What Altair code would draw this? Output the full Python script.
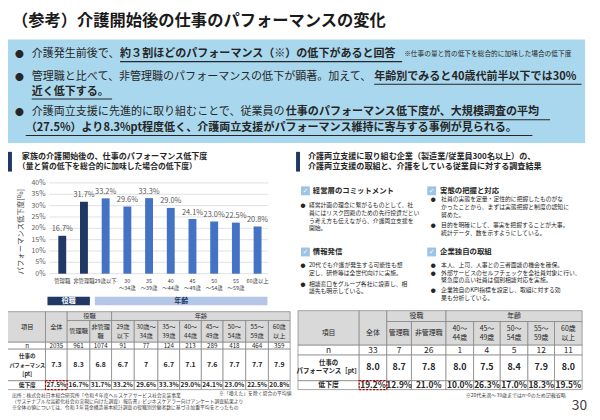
import altair as alt
import pandas as pd

JP = "Noto Sans CJK JP"
O = 8  # page margin: layout numbers below are page pixels

# ---------------- data ----------------
bar_categories = ["管理職", "非管理職", "29歳以下", "30～34歳", "35～39歳", "40～44歳",
                  "45～49歳", "50～54歳", "55～59歳", "60歳以上"]
bar_groups = ["役職", "役職", "年齢", "年齢", "年齢", "年齢", "年齢", "年齢", "年齢", "年齢"]
bar_values = [16.7, 31.7, 33.2, 29.6, 33.3, 29.0, 24.1, 23.0, 22.5, 20.8]
bar_label_top = ["管理職", "非管理職", "29歳以下", "30", "35", "40", "45", "50", "55", "60歳以上"]
bar_label_bottom = ["", "", "", "～34歳", "～39歳", "～44歳", "～49歳", "～54歳", "～59歳", ""]
y_ticks = [0, 5, 10, 15, 20, 25, 30, 35, 40]

left_heads_top = ["管理職", "非管理", "29歳", "30歳～", "35～", "40～", "45～", "50～", "55～", "60歳"]
left_heads_bottom = ["", "職", "以下", "34歳", "39歳", "44歳", "49歳", "54歳", "59歳", "以上"]
left_n = [2035, 961, 1074, 91, 77, 124, 213, 289, 418, 464, 359]
left_perf = ["7.3", "8.3", "6.8", "6.7", "7", "6.7", "7.1", "7.6", "7.7", "7.7", "7.9"]
left_drop_total = 27.5

right_heads_top = ["管理職", "非管理職", "40～", "45～", "50～", "55～", "60歳"]
right_heads_bottom = ["", "", "44歳", "49歳", "54歳", "59歳", "以上"]
right_n = [33, 7, 26, 1, 4, 5, 12, 11]
right_perf = ["8.0", "8.7", "7.8", "8.0", "7.5", "8.4", "7.9", "8.0"]
right_drop = [19.2, 12.9, 21.0, 10.0, 26.3, 17.0, 18.3, 19.5]

# ---------------- helpers ----------------
texts, fills, cells, dashes, rules = [], [], [], [], []
INK = "#262626"


def T(x, y, t, s, c=INK, w="normal", a="left", f=JP):
    texts.append(dict(x=x - O, y=y - O, t=t, s=s, c=c, w=w, a=a, f=f))


def R(lst, x1, x2, y1, y2, fill="white"):
    lst.append(dict(x=x1 - O, x2=x2 - O, y=y1 - O, y2=y2 - O, fill=fill))


def em(t, bold=False):
    w = 0.0
    for ch in t:
        o = ord(ch)
        if o >= 0x2E80:
            w += 1.0
        elif ch.isdigit():
            w += 0.55
        elif ch == "%":
            w += 0.85
        elif ch in ".,":
            w += 0.27
        else:
            w += 0.55
    return w * (1.04 if bold else 1.0)


FS = 11.2


def seg_line(x0, y, segs):
    x = x0
    for t, bold in segs:
        T(x, y, t, FS, w="bold" if bold else "normal")
        wpx = em(t, bold) * FS
        if bold:
            rules.append(dict(x=x - O, x2=x + wpx - O, y=y + 7.5 - O))
        x += wpx
    return x


# ---------------- title & summary box ----------------
T(12, 18.5, "（参考）介護開始後の仕事のパフォーマンスの変化", 16.5, c="#1a1a1a", w="bold")
R(fills, 7, 593, 37, 142, "#a9d8ee")
for by in [52, 75, 111]:
    T(19.5, by, "●", 9, a="center")
end1 = seg_line(32, 52, [("介護発生前後で、", False), ("約３割ほどのパフォーマンス（※）の低下があると回答", True)])
T(end1 + 2, 52, "※仕事の量と質の低下を総合的に加味した場合の低下度", 6.8)
seg_line(32, 75, [("管理職と比べて、非管理職のパフォーマンスの低下が顕著。加えて、", False),
                  ("年齢別でみると40歳代前半以下では30%", True)])
seg_line(32, 90, [("近く低下する。", True)])
seg_line(32, 111, [("介護両立支援に先進的に取り組むことで、従業員の", False),
                   ("仕事のパフォーマンス低下度が、大規模調査の平均", True)])
seg_line(26, 127, [("（27.5%）より8.3%pt程度低く、介護両立支援がパフォーマンス維持に寄与する事例が見られる。", True)])

# ---------------- left section header ----------------
R(fills, 8, 12, 151, 171, "#203864")
T(22, 156, "家族の介護開始後の、仕事のパフォーマンス低下度", 8.2, w="bold")
T(18, 166, "（量と質の低下を総合的に加味した場合の低下度）", 7.9, w="bold")

# 役職 / 年齢 bands
R(fills, 48, 91, 298, 306.5, "#203864")
R(fills, 96, 271, 298, 306.5, "#b4c7e7")
T(69.5, 302.3, "役職", 7, c="white", w="bold", a="center")
T(183.5, 302.3, "年齢", 7, c="#203864", w="bold", a="center")

# ---------------- left table ----------------
LX = [7, 46, 68, 91, 113, 136, 160, 182, 204, 226, 249, 272, 294]
GRAY = "#d9d9d9"
R(cells, LX[0], LX[1], 313, 344, GRAY)
R(cells, LX[1], LX[2], 313, 344, GRAY)
R(cells, LX[2], LX[4], 313, 322, GRAY)
R(cells, LX[4], LX[12], 313, 322, GRAY)
for i in range(2, 12):
    R(cells, LX[i], LX[i + 1], 322, 344, GRAY)
for (y1, y2) in [(344, 351), (351, 383), (383, 392)]:
    for i in range(12):
        R(cells, LX[i], LX[i + 1], y1, y2, "white")
lc = [(LX[i] + LX[i + 1]) / 2 for i in range(12)]
LS = 6.3
T(lc[0] + 1, 329, "項目", LS, a="center")
T(lc[1], 329, "全体", LS, a="center")
T((LX[2] + LX[4]) / 2, 317.5, "役職", LS, a="center")
T((LX[4] + LX[12]) / 2, 317.5, "年齢", LS, a="center")
for k in range(10):
    if left_heads_bottom[k]:
        T(lc[k + 2], 328.5, left_heads_top[k], LS, a="center")
        T(lc[k + 2], 338, left_heads_bottom[k], LS, a="center")
    else:
        T(lc[k + 2], 333, left_heads_top[k], LS, a="center")
T(lc[0] + 1, 347.5, "n", LS, a="center")
T(lc[0] + 1, 358, "仕事の", 5.6, w="bold", a="center")
T(lc[0] + 1, 367, "パフォーマンス", 5.2, w="bold", a="center")
T(lc[0] + 1, 376, "[pt]", 5.6, w="bold", a="center")
T(lc[0] + 1, 387.5, "低下度", 5.8, w="bold", a="center")
left_drop = [left_drop_total] + bar_values
for i in range(11):
    T(lc[i + 1], 347.5, str(left_n[i]), LS, a="center")
    T(lc[i + 1], 367, left_perf[i], 7, w="bold", a="center")
    T(lc[i + 1], 387.5, f"{left_drop[i]:.1f}%", 6.6, w="bold", a="center")
R(dashes, LX[1], LX[2], 383, 392)

# ---------------- right section ----------------
R(fills, 300, 304, 151, 171, "#203864")
T(312, 156, "介護両立支援に取り組む企業（製造業/従業員300名以上）の、", 8.2, w="bold")
T(312, 166, "介護両立支援の取組と、介護をしている従業員に対する調査結果", 8.2, w="bold")
for (ix, iy) in [(305, 186), (433, 186), (305, 248), (433, 248)]:
    R(fills, ix, ix + 9, iy, iy + 9, "#9dc3e6")
    T(ix + 4.5, iy + 4.8, "✓", 7, c="white", w="bold", a="center", f="DejaVu Sans")
T(317, 190.5, "経営層のコミットメント", 7.5, w="bold")
T(446, 190.5, "実態の把握と対応", 7.5, w="bold")
T(317, 252.5, "情報発信", 7.5, w="bold")
T(446, 252.5, "企業独自の取組", 7.5, w="bold")
BS = 5.9


def bullets(xb, xt, items):
    for lines, ys in items:
        T(xb, ys[0], "●", 5, a="center")
        for ln, yy in zip(lines, ys):
            T(xt, yy, ln, BS)


bullets(307, 313, [(["経営計画の理念に繋がるものとして、社", "員にはリスク回避のための先行投資だとい",
                     "う考え方も伝えながら、介護両立支援を", "開始。"], [205, 212.9, 220.8, 228.7])])
bullets(439, 447, [(["社員の実態を定量・定性的に把握したものがな", "かったことから、まずは実態把握と制度の認知に",
                     "努めた。"], [199.3, 207.2, 215.1]),
                   (["目的を明確にして、事実を把握することが大事。", "統計データ、数を示すようにしている。"], [225, 232.9])])
bullets(307, 313, [(["20代でも介護が発生する可能性も想", "定し、研修等は全世代向けに実施。"], [266, 273.9]),
                   (["相談窓口をグループ各社に設置し、相", "談先も明示している。"], [284.5, 292.4])])
bullets(439, 447, [(["本人、上司、人事との三者面談の機会を確保。"], [265.5]),
                   (["外部サービスのセルフチェックを全社員対象に行い、", "緊急度の高い社員は個別相談対応を実施。"], [273.5, 281.4]),
                   (["企業独自のKPI指標を設定し、取組に対する効", "果も分析している。"], [291, 298.9])])

# ---------------- right table ----------------
RX = [302, 364, 392, 417, 452, 480, 507, 535, 562, 590]
R(cells, RX[0], RX[1], 312, 347, GRAY)
R(cells, RX[1], RX[2], 312, 347, GRAY)
R(cells, RX[2], RX[4], 312, 323, GRAY)
R(cells, RX[4], RX[9], 312, 323, GRAY)
for i in range(2, 9):
    R(cells, RX[i], RX[i + 1], 323, 347, GRAY)
for (y1, y2) in [(347, 357), (357, 383), (383, 392)]:
    for i in range(9):
        R(cells, RX[i], RX[i + 1], y1, y2, "white")
rc = [(RX[i] + RX[i + 1]) / 2 for i in range(9)]
RS = 7
T(rc[0], 335, "項目", RS, a="center")
T(rc[1], 335, "全体", RS, a="center")
T((RX[2] + RX[4]) / 2, 317.8, "役職", RS, a="center")
T((RX[4] + RX[9]) / 2, 317.8, "年齢", RS, a="center")
for k in range(7):
    if right_heads_bottom[k]:
        T(rc[k + 2], 330.5, right_heads_top[k], RS, a="center")
        T(rc[k + 2], 340, right_heads_bottom[k], RS, a="center")
    else:
        T(rc[k + 2], 335, right_heads_top[k], RS, a="center")
T(rc[0], 352, "n", 8.5, a="center")
T(rc[0], 365, "仕事の", 6.5, w="bold", a="center")
T(rc[0], 373, "パフォーマンス［pt］", 6.5, w="bold", a="center")
T(rc[0], 387.5, "低下度", 7, w="bold", a="center")
for i in range(8):
    T(rc[i + 1], 352, str(right_n[i]), 8.5, a="center")
    T(rc[i + 1], 369.5, right_perf[i], 9, w="bold", a="center")
    T(rc[i + 1], 387.5, f"{right_drop[i]:.1f}%", 8.5, w="bold", a="center")
R(dashes, RX[1], RX[2], 383, 392)

# ---------------- footnotes ----------------
FN = "#404040"
T(12, 398, "出所：株式会社日本総合研究所「令和４年度ヘルスケアサービス社会実装事業", 4.9, c=FN)
T(12, 404.3, "（サステナブルな高齢化社会の実現に向けた調査）報告書」ビジネスケアラー向けアンケート調査結果より", 4.9, c=FN)
T(12, 410.6, "※全体の値については、令和３年賃金構造基本統計調査の役職別労働者数に基づき加重平均をとったもの", 4.9, c=FN)
T(222, 396.8, "※「増えた」を除く場合の平均値", 4.9, c=FN)
T(472, 397, "※20代未満～39歳まではn=0のため記載省略", 5.1, c=FN)
T(595, 409, "30", 14, c="#404040", a="right")

# ---------------- layers ----------------
def rect_layer(rows, **mk):
    return alt.Chart(pd.DataFrame(rows)).mark_rect(**mk).encode(
        x=alt.X("x:Q", scale=None, axis=None), x2="x2:Q",
        y=alt.Y("y:Q", scale=None, axis=None), y2="y2:Q",
        color=alt.Color("fill:N", scale=None, legend=None))


fill_layer = rect_layer(fills)
cell_layer = rect_layer(cells, stroke="#7f7f7f", strokeWidth=0.7)
dash_layer = alt.Chart(pd.DataFrame(dashes)).mark_rect(
    fillOpacity=0, stroke="#c00000", strokeWidth=1.2, strokeDash=[2, 1.5]).encode(
    x=alt.X("x:Q", scale=None, axis=None), x2="x2:Q",
    y=alt.Y("y:Q", scale=None, axis=None), y2="y2:Q")
rule_layer = alt.Chart(pd.DataFrame(rules)).mark_rule(color=INK, strokeWidth=1.1).encode(
    x=alt.X("x:Q", scale=None, axis=None), x2="x2:Q",
    y=alt.Y("y:Q", scale=None, axis=None))

tdf = pd.DataFrame(texts)
text_layers = []
for (w, a, f), g in tdf.groupby(["w", "a", "f"]):
    text_layers.append(
        alt.Chart(g.reset_index(drop=True)).mark_text(
            align=a, baseline="middle", fontWeight=w, font=f).encode(
            x=alt.X("x:Q", scale=None, axis=None),
            y=alt.Y("y:Q", scale=None, axis=None),
            text="t:N",
            size=alt.Size("s:Q", scale=None, legend=None),
            color=alt.Color("c:N", scale=None, legend=None)))

ytitle = alt.Chart(pd.DataFrame({"t": ["パフォーマンス低下度[%]"]})).mark_text(
    angle=270, fontSize=7.5, color="#404040", font=JP, baseline="middle", align="center").encode(
    x=alt.value(21 - O), y=alt.value(232 - O), text="t:N")

# ---------------- bar chart ----------------
bar_df = pd.DataFrame({"cat": bar_categories, "grp": bar_groups, "val": bar_values,
                       "lab": [f"{v:.1f}%" for v in bar_values],
                       "l1": bar_label_top, "l2": bar_label_bottom})
tick_df = pd.DataFrame({"tick": y_ticks, "tl": [f"{t}%" for t in y_ticks]})
xs = alt.Scale(domain=bar_categories, range=[52 - O, 272 - O], paddingInner=0.636, paddingOuter=0.318)
ys = alt.Scale(domain=[0, 40], range=[274.5 - O, 182.5 - O], nice=False)
Xb = alt.X("cat:N", scale=xs, axis=None, sort=bar_categories)
Yb = alt.Y("val:Q", scale=ys, axis=None)

grid = alt.Chart(tick_df).mark_rule(color="#d9d9d9", strokeWidth=0.8).encode(
    y=alt.Y("tick:Q", scale=ys, axis=None), x=alt.value(50 - O), x2=alt.value(272 - O))
tick_labels = alt.Chart(tick_df).mark_text(
    align="right", baseline="middle", fontSize=7, color="#595959", font=JP).encode(
    y=alt.Y("tick:Q", scale=ys, axis=None), x=alt.value(46 - O), text="tl:N")
bars = alt.Chart(bar_df).mark_bar().encode(
    x=Xb, y=Yb,
    color=alt.Color("grp:N", scale=alt.Scale(domain=["役職", "年齢"], range=["#1f3864", "#4472c4"]), legend=None))
value_labels = alt.Chart(bar_df).mark_text(
    baseline="bottom", dy=-2.5, fontSize=7.5, color="#595959", font=JP).encode(x=Xb, y=Yb, text="lab:N")
xl1 = alt.Chart(bar_df).mark_text(fontSize=5.5, color="#404040", font=JP, baseline="middle").encode(
    x=Xb, y=alt.value(282 - O), text="l1:N")
xl2 = alt.Chart(bar_df).mark_text(fontSize=5.5, color="#404040", font=JP, baseline="middle").encode(
    x=Xb, y=alt.value(289.5 - O), text="l2:N")
bar_group = alt.layer(grid, bars, value_labels, tick_labels, xl1, xl2)

chart = alt.layer(
    fill_layer, cell_layer, bar_group, rule_layer, ytitle, *text_layers, dash_layer
).resolve_scale(
    x="independent", y="independent", color="independent", size="independent"
).properties(
    width=600 - O, height=420 - O, padding=0,
    autosize=alt.AutoSizeParams(type="none"), background="white"
).configure_view(stroke=None)

chart.save("out.html", embed_options={"renderer": "svg", "actions": False})
